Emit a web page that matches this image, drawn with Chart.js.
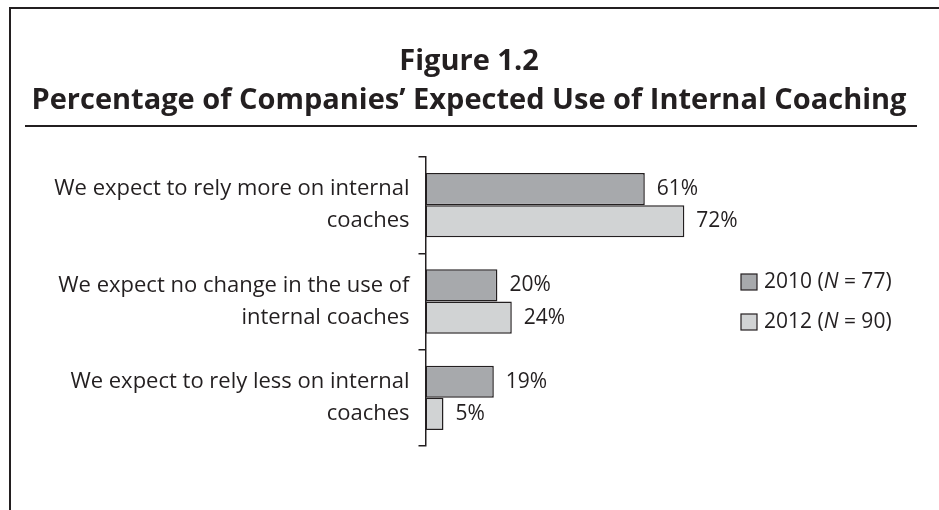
<!DOCTYPE html>
<html>
<head>
<meta charset="utf-8">
<script src="https://cdn.jsdelivr.net/npm/chart.js@4.4.0/dist/chart.umd.min.js"></script>
<style>
  html, body { margin: 0; padding: 0; background: #fff; }
  #wrap { width: 939px; height: 510px; position: relative; }
</style>
</head>
<body>
<div id="wrap"><canvas id="c" width="939" height="510"></canvas></div>
<script>
const titleLine1 = "Figure 1.2";
const titleLine2 = "Percentage of Companies\u2019 Expected Use of Internal Coaching";
const categories = [
  ["We expect to rely more on internal", "coaches"],
  ["We expect no change in the use of", "internal coaches"],
  ["We expect to rely less on internal", "coaches"]
];
const seriesNames = ["2010", "2012"];
const seriesN = [77, 90];
const values2010 = [61, 20, 19];
const values2012 = [72, 24, 5];

const INK = "#231f20";
const FONT = "'Open Sans', 'DejaVu Sans', sans-serif";
const colors = ["#a7a9ac", "#d1d3d4"];

const decorPlugin = {
  id: 'decor',
  afterDraw(chart) {
    const ctx = chart.ctx;
    ctx.save();
    // frame
    ctx.strokeStyle = INK;
    ctx.lineWidth = 2;
    ctx.beginPath();
    ctx.moveTo(10, 510);
    ctx.lineTo(10, 8);
    ctx.lineTo(939, 8);
    ctx.stroke();
    // titles
    ctx.fillStyle = INK;
    ctx.textAlign = 'center';
    ctx.textBaseline = 'middle';
    ctx.font = "bold 29px " + FONT;
    ctx.fillText(titleLine1, 469, 62);
    ctx.fillText(titleLine2, 469, 101);
    // separator
    ctx.beginPath();
    ctx.moveTo(25, 126);
    ctx.lineTo(917, 126);
    ctx.stroke();
    // legend
    ctx.lineWidth = 1.2;
    ctx.textAlign = 'left';
    ctx.textBaseline = 'middle';
    const ly = [282, 322];
    for (let i = 0; i < seriesNames.length; i++) {
      const y = ly[i];
      ctx.fillStyle = colors[i];
      ctx.fillRect(741, y - 8, 16, 16);
      ctx.strokeStyle = INK;
      ctx.strokeRect(741, y - 8, 16, 16);
      ctx.fillStyle = INK;
      let x = 764;
      const parts = [
        [seriesNames[i] + " (", "normal"],
        ["N", "italic"],
        [" = " + seriesN[i] + ")", "normal"]
      ];
      for (const [t, st] of parts) {
        ctx.font = st + " 21px " + FONT;
        ctx.fillText(t, x, y);
        x += ctx.measureText(t).width;
      }
    }
    ctx.restore();
  },
  afterDatasetsDraw(chart) {
    const ctx = chart.ctx;
    ctx.save();
    ctx.fillStyle = INK;
    ctx.font = "21px " + FONT;
    ctx.textAlign = 'left';
    ctx.textBaseline = 'middle';
    chart.data.datasets.forEach((ds, di) => {
      const meta = chart.getDatasetMeta(di);
      meta.data.forEach((bar, i) => {
        ctx.fillText(ds.data[i] + "%", bar.x + 12, bar.y);
      });
    });
    ctx.restore();
  }
};

new Chart(document.getElementById('c'), {
  type: 'bar',
  data: {
    labels: categories,
    datasets: [
      { label: seriesNames[0], data: values2010, backgroundColor: colors[0] },
      { label: seriesNames[1], data: values2012, backgroundColor: colors[1] }
    ]
  },
  options: {
    indexAxis: 'y',
    responsive: false,
    animation: false,
    devicePixelRatio: 1,
    layout: { padding: { left: 0, right: 154, top: 157, bottom: 64 } },
    datasets: {
      bar: {
        barPercentage: 1,
        categoryPercentage: 0.667,
        borderColor: INK,
        borderWidth: 1.5,
        borderSkipped: false
      }
    },
    plugins: {
      legend: { display: false },
      title: { display: false },
      tooltip: { enabled: false }
    },
    scales: {
      x: { display: false, min: 0, max: 100 },
      y: {
        afterFit(scale) { scale.width = 425.5; },
        border: { display: true, color: INK, width: 1.5 },
        grid: { drawOnChartArea: false, drawTicks: true, tickLength: 7, color: INK, lineWidth: 1.5, offset: true },
        ticks: {
          padding: 9,
          color: INK,
          font: { family: FONT, size: 22, lineHeight: 1.45 }
        }
      }
    }
  },
  plugins: [decorPlugin]
});
</script>
</body>
</html>
